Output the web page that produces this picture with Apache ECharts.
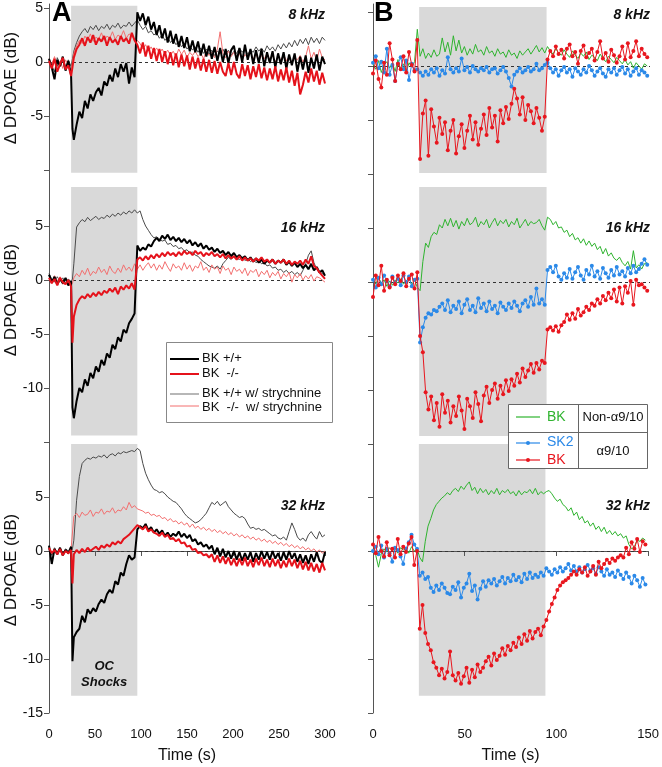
<!DOCTYPE html>
<html><head><meta charset="utf-8">
<script src="https://cdn.jsdelivr.net/npm/echarts@6/dist/echarts.min.js"></script>
<style>html,body{margin:0;padding:0;background:#fff}#c{width:662px;height:767px}</style>
</head><body><div id="c"></div>
<script>
// ---- sample times (s) ----
const tA = [];
for (let t = 0; t <= 24; t += 3) tA.push(t);
tA.push(25.5);
for (let t = 27; t <= 300; t += 3) tA.push(t);
const tB = [];
for (let i = 0; i < 100; i++) tB.push(i * 1.5);

// ---- shock window (s) ----
const shockA = [24, 96];
const shockB = [25, 94];

// ---- Panel A, 8 kHz ----
const a8Black = [
0.3,-0.5,-1.6,0.2,-0.4,0.5,-0.8,0.1,-1.2,-6.2,
-7.2,-5.8,-4.6,-5.2,-3.6,-4.3,-3.0,-3.6,-2.8,-2.4,
-3.1,-1.8,-2.2,-1.2,-1.8,-0.6,-1.4,-0.2,-0.9,-0.1,
-2.0,-0.5,-1.4,4.6,3.8,4.5,3.4,4.2,3.0,3.7,
2.5,3.4,2.2,3.1,1.8,2.9,1.7,2.6,1.4,2.4,
1.3,2.3,1.0,2.0,0.9,1.9,0.6,1.7,0.5,1.5,
0.3,1.4,0.1,1.3,0.0,1.2,-0.1,1.1,1.5,0.1,
1.3,0.0,1.6,0.2,1.2,-0.2,1.1,-0.1,1.2,-0.4,
0.9,-0.1,1.0,-0.5,0.8,-0.2,0.9,-0.6,0.7,-0.3,
0.8,-0.9,0.5,-0.7,0.6,-1.0,0.4,-0.6,0.7,-0.8,
0.5,-0.2];
const a8Red = [
0.1,-0.6,0.3,-0.9,-0.2,0.4,-0.7,-0.3,-1.3,-0.5,
0.4,1.2,1.6,2.2,1.5,2.3,1.8,2.5,1.6,2.2,
1.9,2.4,1.5,2.3,1.8,2.1,1.6,2.4,1.9,2.2,
1.7,2.7,2.0,1.6,0.8,1.8,0.5,1.5,0.3,1.3,
0.1,1.2,0.0,1.0,-0.2,0.9,-0.3,0.8,-0.5,0.7,
-0.4,0.6,-0.7,0.5,-0.6,0.4,-0.8,0.3,-0.9,0.2,
-1.0,0.1,-1.1,0.0,-0.9,-1.3,-0.1,-1.2,0.0,-1.1,
-1.5,-0.2,-1.3,-0.3,-1.6,-0.4,-1.4,-0.2,-1.5,-0.5,
-1.7,-0.6,-1.6,-0.4,-1.8,-0.7,-1.7,-0.5,-1.9,-0.8,
-2.2,-1.0,-3.0,-2.1,-0.9,-1.9,-0.6,-1.8,-0.8,-2.1,
-1.0,-2.0];
const a8Gray = [
0.2,-0.3,-0.9,0.4,-0.2,0.3,-0.5,0.2,-0.4,0.3,
1.0,1.8,2.4,2.8,3.1,2.7,3.3,3.0,3.4,2.9,
3.3,3.1,3.5,3.0,3.4,3.2,3.6,3.1,3.4,3.3,
3.7,3.3,3.6,3.9,3.4,3.0,3.3,2.7,2.9,2.5,
2.7,2.2,2.5,2.0,2.3,1.8,2.1,1.6,1.9,1.4,
1.7,1.2,1.5,1.1,1.4,0.9,1.3,0.8,1.2,0.7,
1.1,0.6,1.0,0.8,1.2,0.7,1.1,0.6,1.0,0.8,
1.3,0.9,1.2,0.7,1.1,0.9,1.4,1.0,1.3,0.9,
1.5,1.1,1.4,1.0,1.6,1.2,1.7,1.3,1.8,1.4,
2.0,1.5,2.1,1.7,2.2,1.6,2.3,1.8,2.2,1.7,
2.3,2.0];
const a8Pink = [
0.3,-0.2,0.5,-0.4,0.1,-0.6,0.2,-0.3,-0.8,0.0,
0.8,1.5,2.0,1.7,2.4,2.0,2.6,1.9,2.3,2.1,
2.7,2.0,2.4,2.2,2.8,2.1,2.5,2.3,2.9,2.2,
2.6,2.4,2.1,2.0,1.7,1.2,1.6,1.0,1.4,0.9,
1.3,0.8,1.2,0.7,1.1,0.6,1.0,0.5,1.2,0.7,
1.1,0.4,0.9,0.6,1.0,0.5,0.8,0.3,1.0,0.6,
0.9,0.4,1.2,2.8,0.8,0.4,1.0,0.5,0.9,0.3,
0.8,0.2,0.7,0.4,0.9,0.3,0.7,0.1,0.6,0.3,
0.8,0.2,0.6,0.0,0.5,0.2,0.7,0.1,0.5,-0.1,
0.4,0.2,0.6,0.0,0.5,1.5,0.3,0.9,0.1,1.2,
0.4,0.2];

// ---- Panel A, 16 kHz ----
const a16Black = [
0.5,-0.2,0.3,-0.4,0.1,-0.3,0.2,-0.5,-0.1,-11.8,
-12.8,-11.2,-10.0,-10.4,-9.2,-9.8,-8.6,-9.1,-8.0,-8.5,
-7.4,-7.9,-6.8,-7.2,-6.0,-6.4,-5.3,-5.7,-4.6,-4.9,
-4.0,-3.6,-3.1,3.2,2.7,3.0,2.8,3.3,3.1,3.6,
3.9,3.6,4.1,3.8,4.2,3.7,4.0,3.6,3.9,3.5,
3.8,3.4,3.7,3.2,3.5,3.1,3.4,2.9,3.2,2.8,
3.0,2.6,2.9,2.5,2.7,2.3,2.6,2.2,2.5,2.1,
2.3,2.0,2.2,1.8,2.1,1.7,2.0,1.6,1.9,1.5,
1.8,1.6,1.9,1.5,1.8,1.6,1.9,1.4,1.7,1.3,
1.6,1.2,1.5,1.1,1.4,1.0,1.5,0.9,1.2,0.7,
0.9,0.4];
const a16Red = [
0.2,-0.3,0.1,-0.5,0.2,-0.2,-0.4,0.0,-0.6,-5.8,
-3.4,-2.3,-1.8,-1.5,-1.7,-1.3,-1.6,-1.2,-1.5,-1.1,
-1.4,-1.0,-1.2,-0.8,-1.1,-0.7,-1.3,-0.6,-0.9,-0.5,
-0.8,-0.3,-0.9,1.9,2.1,1.8,2.2,1.9,2.3,2.0,
2.4,2.1,2.5,2.2,2.6,2.3,2.5,2.2,2.6,2.3,
2.7,2.4,2.6,2.3,2.7,2.4,2.6,2.2,2.5,2.3,
2.6,2.2,2.4,2.1,2.4,2.0,2.3,2.0,2.2,1.9,
2.2,1.8,2.1,1.8,2.0,1.7,2.0,1.8,2.1,1.7,
1.9,1.6,1.9,1.5,1.8,1.6,1.9,1.5,1.8,1.4,
1.7,1.5,1.8,1.4,1.9,1.5,2.2,1.3,1.1,0.7,
0.4,0.1];
const a16Gray = [
0.6,0.1,-0.2,0.3,-0.1,0.2,-0.3,0.1,-0.2,0.1,
1.5,4.9,5.3,5.6,5.4,5.8,5.5,5.7,5.9,5.6,
5.8,5.7,6.0,5.8,6.1,5.9,6.2,6.0,6.3,6.1,
6.4,6.2,6.5,6.2,6.4,5.6,5.0,4.6,4.2,3.9,
4.0,3.8,3.6,3.7,3.3,3.4,3.1,3.2,2.9,3.0,
2.7,2.8,2.5,2.6,2.3,2.2,1.9,1.7,1.5,1.3,
1.2,1.1,1.3,1.0,1.5,1.8,2.1,1.9,2.2,2.0,
1.9,2.1,1.8,2.0,1.7,1.9,1.6,1.8,1.5,1.6,
1.3,1.4,1.1,1.2,0.9,1.0,0.7,0.9,0.6,0.8,
0.5,0.7,0.4,0.9,1.5,2.3,2.7,1.6,1.0,0.8,
0.6,0.5];
const a16Pink = [
0.2,-0.3,0.4,-0.1,0.3,-0.4,0.1,-0.2,-0.5,-0.3,
0.2,0.6,0.3,0.9,0.5,1.1,0.4,0.8,0.6,1.2,
0.7,1.0,0.5,1.3,0.8,0.6,1.1,0.7,1.4,0.9,
1.2,0.8,1.5,1.0,1.4,0.9,1.3,1.6,1.1,1.5,
0.9,1.4,1.0,1.7,1.2,0.8,1.5,1.1,1.3,0.9,
1.6,1.0,1.4,0.8,1.3,1.1,1.7,0.9,1.2,0.7,
1.4,1.0,1.2,0.6,1.3,0.9,1.1,0.5,1.2,0.8,
1.0,0.6,1.1,0.4,0.9,0.7,1.0,0.3,0.8,0.5,
0.9,0.2,0.7,0.4,0.8,0.1,0.6,0.3,0.7,-0.2,
0.5,0.2,0.6,0.0,0.4,0.1,0.5,-0.1,0.3,0.2,
0.0,-0.2];

// ---- Panel A, 32 kHz ----
const a32Black = [
0.5,-1.2,0.2,-0.3,0.3,-0.4,0.1,-0.2,0.4,-10.2,
-8.0,-7.5,-7.2,-6.0,-6.6,-5.4,-5.8,-5.3,-5.6,-4.9,
-4.5,-4.8,-4.0,-3.6,-3.9,-2.8,-3.1,-2.0,-2.3,-1.2,
-0.4,-0.8,-0.6,2.0,2.3,2.1,2.5,1.9,2.2,1.7,
2.0,1.6,1.9,1.4,1.7,1.3,1.6,1.4,1.8,1.3,
1.6,1.2,1.5,0.9,1.1,0.6,0.8,0.4,0.6,0.2,
0.5,-0.3,0.3,-0.5,0.2,-0.6,0.0,-0.7,0.0,-0.8,
-0.1,-0.9,-0.2,-0.8,-0.1,-1.0,-0.2,-0.8,0.0,-0.7,
-0.1,-0.8,0.0,-0.7,-0.2,-0.9,-0.1,-0.8,0.0,-0.7,
-0.2,-1.0,-0.3,-1.1,-0.4,-1.2,-0.3,-1.0,-0.1,-0.9,
-1.1,-0.1];
const a32Red = [
0.3,-0.2,0.1,-0.3,0.2,-0.4,0.0,-0.2,0.1,-3.0,
-0.3,0.1,-0.2,0.2,-0.1,0.3,0.0,0.2,0.4,0.1,
0.5,0.3,0.6,0.4,0.8,0.6,0.9,0.7,1.1,1.3,
1.5,1.8,2.1,2.4,2.2,2.0,2.3,1.8,2.0,1.7,
1.6,1.4,1.7,1.3,1.5,1.1,1.2,0.9,1.1,0.7,
0.8,0.4,0.5,0.1,0.2,-0.2,-0.1,-0.4,-0.3,-0.6,
-0.3,-1.0,-0.4,-1.1,-0.5,-1.2,-0.6,-1.3,-0.7,-1.4,
-0.7,-1.3,-0.6,-1.4,-0.8,-1.5,-0.7,-1.3,-0.6,-1.4,
-0.8,-1.5,-0.7,-1.4,-0.8,-1.6,-0.9,-1.5,-0.7,-1.4,
-0.8,-1.6,-0.9,-1.7,-1.0,-1.8,-1.1,-1.9,-1.2,-2.0,
-1.1,-1.8];
const a32Gray = [
0.2,-0.4,0.3,-0.2,0.1,-0.3,0.2,0.0,-0.1,0.2,
1.0,4.7,6.9,8.1,8.4,8.6,8.5,8.7,8.6,8.8,
8.7,8.9,8.6,8.9,9.0,8.8,9.1,9.0,9.2,9.1,
9.2,9.3,9.2,9.5,9.3,8.1,7.2,6.6,6.1,5.7,
5.6,5.4,5.5,5.3,5.0,4.8,4.6,4.5,4.2,3.9,
3.5,3.2,3.0,2.8,2.6,2.7,2.9,3.2,3.5,4.0,
4.5,4.3,4.6,4.2,4.4,4.6,4.1,3.8,3.5,3.3,
3.1,3.2,3.0,2.5,2.1,2.2,2.0,2.1,1.9,2.0,
1.8,1.6,1.4,1.5,1.2,1.1,1.3,1.0,1.8,2.6,
2.0,1.3,1.0,1.2,0.9,1.5,1.8,1.4,1.1,1.8,
1.3,1.5];
const a32Pink = [
0.1,-0.2,0.2,-0.1,0.3,-0.2,0.1,-0.3,0.2,0.3,
3.2,3.5,3.1,3.6,3.3,3.4,3.8,3.2,3.6,3.5,
3.9,3.4,3.7,3.6,4.0,3.5,3.8,3.7,4.1,3.8,
4.5,4.0,4.2,3.9,3.8,3.7,3.5,3.6,3.3,3.4,
3.2,3.3,3.0,3.1,2.8,3.0,2.7,2.8,2.5,2.7,
2.4,2.6,2.2,2.5,2.1,2.3,2.0,2.2,1.9,2.1,
1.8,2.0,1.7,1.9,1.6,1.8,1.5,1.7,1.4,1.6,
1.3,1.5,1.2,1.4,1.1,1.3,1.0,1.2,0.9,1.1,
0.8,1.0,0.7,0.9,0.6,0.8,0.5,0.7,0.4,0.6,
0.3,0.5,0.2,0.4,0.1,0.3,0.0,0.2,-0.1,0.1,
-0.2,0.0];

// ---- Panel B, 8 kHz ----
const b8Green = [
0.2,-0.3,0.5,-0.6,0.1,0.4,-0.2,0.3,-0.5,0.6,
-0.4,0.2,-0.6,0.3,-0.1,0.4,3.4,0.9,1.6,0.7,
1.2,0.8,1.5,0.9,1.1,2.6,1.3,2.2,1.0,2.8,
1.4,2.4,1.2,1.8,1.0,1.6,1.1,2.0,1.3,1.5,
1.0,1.8,1.2,1.4,0.9,1.6,1.1,1.3,0.8,1.5,
1.0,1.2,0.7,1.4,1.0,1.3,1.6,1.1,1.5,1.9,
1.3,1.7,1.2,1.8,1.4,1.1,1.6,1.2,1.0,1.5,
1.1,0.8,1.4,1.0,0.7,1.2,0.9,1.3,0.6,1.0,
0.8,0.5,1.1,0.7,0.4,0.9,0.6,0.3,0.8,0.5,
0.2,0.6,0.1,0.4,-0.2,0.3,0.0,-0.3,0.2,0.0];
const b8Blue = [
0.3,0.9,-0.2,0.4,-0.6,1.6,-0.8,0.1,-1.4,0.2,
0.8,-0.3,0.5,-1.3,0.2,-0.4,-0.3,-0.6,-0.9,-0.5,
-0.8,-0.3,-0.6,-0.2,-0.9,-0.4,-0.7,0.8,-0.3,-0.6,
-0.2,-0.5,0.7,-0.4,-0.1,-0.6,0.0,-0.3,-0.5,-0.2,
-0.4,-0.1,-0.6,-0.3,-0.2,-0.7,-0.4,-0.1,-0.5,-1.1,
-1.9,-0.8,-0.5,-0.2,-0.6,-0.4,-0.1,-0.5,-0.3,0.2,
-0.4,-0.2,0.1,0.3,-0.2,-0.6,-0.3,-0.9,-0.4,-0.1,
-0.6,-0.3,-1.0,-0.2,-0.5,-0.8,-0.3,-0.6,0.0,-0.4,
-0.9,-0.5,-0.2,-0.7,-1.0,-0.3,-0.6,-0.2,-0.8,-0.4,
-0.1,-0.7,-0.3,-0.9,-0.5,-0.2,-0.8,-0.4,-0.6,-0.9];
const b8Red = [
-0.7,0.5,-1.2,-2.0,0.3,-0.8,2.1,0.6,-1.4,0.2,
-0.3,0.9,-0.6,1.3,0.1,-0.5,2.4,-8.6,-4.4,-3.2,
-8.3,-4.0,-5.6,-7.1,-4.8,-6.3,-5.2,-7.8,-6.0,-5.0,
-8.1,-6.5,-5.4,-7.6,-6.0,-4.6,-6.8,-5.2,-7.3,-5.8,
-4.5,-6.4,-3.9,-5.7,-4.6,-7.0,-4.1,-5.3,-3.8,-4.9,
-3.5,-2.1,-3.0,-4.5,-2.9,-5.0,-3.6,-4.2,-5.3,-3.9,
-4.8,-6.0,-4.7,0.6,1.4,0.9,1.8,1.1,1.5,0.7,
1.6,2.0,0.9,1.3,0.2,1.4,1.9,0.8,1.2,1.6,
0.5,1.3,2.3,0.7,1.2,0.4,1.5,1.0,0.3,0.9,
1.8,0.6,2.1,0.8,1.4,2.3,0.9,1.6,1.1,0.8];

// ---- Panel B, 16 kHz ----
const b16Green = [
0.3,-0.2,0.4,-0.1,0.2,-0.4,0.1,-0.3,0.2,-0.1,
0.3,-0.2,0.1,0.4,-0.3,0.2,-0.5,-0.8,1.9,3.6,
3.2,4.2,4.6,4.4,5.3,5.0,5.8,5.2,5.9,5.1,
5.7,4.9,5.6,5.2,5.9,5.3,5.5,6.0,5.1,5.6,
5.3,5.8,5.0,5.5,5.9,5.2,5.7,5.4,5.8,5.1,
5.6,5.3,5.9,5.0,5.4,5.8,5.2,5.6,5.4,5.5,
5.8,5.2,4.8,6.0,5.8,5.3,5.6,5.0,5.1,4.6,
4.8,4.2,4.5,3.9,4.1,3.6,4.0,3.4,3.8,3.3,
3.6,3.0,3.3,2.6,3.1,2.4,2.7,2.2,2.0,2.3,
1.8,1.5,1.9,1.2,2.9,1.3,1.6,1.2,1.7,1.8];
const b16Blue = [
0.2,-0.5,0.4,-0.2,0.6,0.1,-0.4,0.5,-0.1,0.3,
-0.3,0.6,0.0,0.5,-0.4,0.2,0.3,-5.6,-4.2,-3.3,
-2.9,-3.0,-2.6,-2.7,-2.3,-2.0,-2.6,-1.7,-2.8,-2.2,
-2.5,-1.8,-2.9,-2.1,-1.6,-2.6,-2.2,-2.8,-1.5,-2.4,
-2.0,-2.7,-1.8,-2.5,-2.2,-2.9,-1.9,-2.3,-2.6,-2.0,
-2.4,-1.8,-2.2,-2.7,-2.0,-1.7,-2.3,-1.4,-2.1,-0.6,
-2.0,-1.6,-2.1,1.1,1.4,0.9,1.5,0.5,0.2,0.8,
0.4,1.2,0.3,0.9,1.4,0.6,0.2,1.1,0.7,1.5,
0.5,1.0,0.3,1.3,0.8,0.4,1.1,0.6,1.4,0.7,
1.0,0.5,1.3,0.8,1.5,0.9,1.2,1.7,2.1,1.6];
const b16Red = [
-1.4,0.6,-0.3,1.5,-0.8,0.2,-0.5,0.4,-0.2,0.6,
0.1,0.8,-0.4,0.3,0.7,-0.6,0.9,-5.0,-6.5,-10.2,
-11.8,-10.6,-12.8,-11.2,-13.4,-10.4,-12.1,-11.0,-13.0,-11.5,
-12.4,-10.6,-11.9,-13.6,-10.8,-11.5,-12.6,-10.2,-11.3,-12.9,
-10.5,-9.7,-11.2,-10.0,-9.4,-10.8,-9.6,-10.4,-9.1,-10.1,
-9.0,-9.6,-8.5,-9.3,-8.0,-8.8,-8.2,-7.6,-8.4,-7.5,
-8.1,-7.3,-7.5,-4.4,-4.2,-4.5,-4.1,-4.6,-4.0,-3.7,
-3.0,-3.5,-2.9,-3.4,-2.5,-3.1,-2.8,-2.3,-2.6,-2.0,
-2.2,-1.6,-2.0,-1.3,-1.7,-1.0,-1.5,-0.7,-1.8,-0.5,
-2.0,-0.4,-1.0,0.1,-2.1,0.2,-0.3,-0.2,-0.5,-0.8];

// ---- Panel B, 32 kHz ----
const b32Green = [
0.2,-0.4,-1.5,-0.3,0.2,-0.1,0.3,0.0,0.4,-0.2,
0.3,0.1,0.2,-0.2,0.4,0.0,0.2,-0.6,-1.0,0.9,
2.3,3.0,3.8,4.3,4.6,4.9,5.1,5.4,5.2,5.6,
5.8,5.5,6.0,5.7,6.1,6.4,5.6,5.9,5.3,5.8,
5.4,5.7,5.2,5.6,5.3,5.8,5.2,5.6,5.4,5.7,
5.3,5.5,5.1,5.6,5.2,5.5,5.4,5.7,5.3,5.8,
5.2,5.5,5.3,5.5,5.6,5.3,4.9,4.6,4.8,4.3,
4.1,3.7,4.0,3.3,3.6,2.9,3.2,2.6,2.8,2.3,
2.6,2.0,2.3,1.8,2.2,1.6,1.9,1.5,1.8,1.4,
1.6,1.2,1.4,0.6,0.2,0.4,1.0,0.9,1.2,1.0];
const b32Blue = [
0.0,0.4,-0.3,0.5,-0.6,0.2,-0.2,-1.0,0.3,0.1,
-0.5,-1.2,0.2,0.8,1.5,0.6,0.2,-2.3,-2.0,-2.6,
-2.4,-3.4,-3.8,-3.2,-3.6,-3.0,-3.4,-3.9,-4.0,-3.3,
-3.6,-2.9,-4.3,-3.4,-3.0,-2.1,-3.7,-3.2,-4.5,-3.5,
-2.8,-3.3,-2.7,-3.0,-2.6,-3.2,-2.8,-2.4,-3.0,-2.5,
-2.8,-2.2,-2.7,-2.4,-2.9,-2.1,-2.6,-2.0,-2.5,-2.2,
-2.4,-2.0,-2.3,-1.6,-1.9,-2.2,-1.7,-2.0,-1.5,-1.9,
-1.6,-1.2,-1.8,-1.4,-1.9,-1.5,-2.0,-1.7,-1.3,-1.8,
-1.6,-2.1,-1.5,-1.9,-2.3,-1.7,-2.2,-2.0,-2.4,-1.8,
-2.2,-2.6,-2.0,-2.4,-3.0,-2.3,-2.7,-3.3,-2.5,-3.1];
const b32Red = [
0.6,-0.2,1.3,0.0,-0.5,0.8,-0.4,0.2,-0.6,1.1,
-0.3,0.4,-0.1,0.7,1.3,-1.3,0.0,-7.2,-5.0,-7.6,
-8.6,-9.2,-10.3,-10.8,-11.5,-10.9,-11.8,-11.2,-9.3,-11.5,
-12.0,-11.3,-12.3,-11.6,-10.8,-12.2,-11.0,-11.7,-10.5,-11.2,
-10.8,-10.2,-9.8,-10.6,-9.5,-10.1,-9.7,-9.0,-9.6,-8.8,
-9.2,-8.5,-8.9,-8.0,-8.6,-7.7,-8.3,-7.4,-8.1,-7.5,
-7.2,-7.8,-7.0,-6.4,-5.6,-4.9,-4.3,-3.6,-3.2,-2.9,
-2.7,-2.5,-2.2,-1.9,-2.2,-1.7,-2.0,-1.5,-2.3,-1.9,
-1.4,-2.2,-1.0,-1.6,-1.2,-0.8,-1.1,-0.7,-0.9,-0.6,
-0.4,-0.6,0.3,-0.3,0.8,0.2,1.1,-0.1,0.9,0.6];

// ---- tick labels ----
const xTicksA = [0, 50, 100, 150, 200, 250, 300];
const xTicksB = [0, 50, 100, 150];
const freqLabels = ['8 kHz', '16 kHz', '32 kHz'];

// ================= chart =================
const FONT = '"Liberation Sans", Arial, Helvetica, sans-serif';
const C = {
  black: '#000000', red: '#e5121b', gray: '#4a4a4a', pink: '#f36f6f',
  green: '#2fb42f', blue: '#2b89e8', redB: '#e8161e', shade: '#d9d9d9', axis: '#555'
};
const pair = (t, v) => t.slice(0, v.length).map((x, i) => [x, v[i]]);

const grids = [
  {left: 49, top: 4, width: 276, height: 170},
  {left: 49, top: 174, width: 276, height: 270},
  {left: 49, top: 444, width: 276, height: 269},
  {left: 373, top: 4, width: 277, height: 172},
  {left: 373, top: 176, width: 277, height: 268},
  {left: 373, top: 444, width: 277, height: 269}
];
const yR = [
  {min: -10.370, max: 5.370, ticks: [5, 0, -5, -10], labels: [5, 0, -5]},
  {min: -15.185, max: 9.815, ticks: [5, 0, -5, -10, -15], labels: [5, 0, -5, -10]},
  {min: -15.0, max: 9.907, ticks: [5, 0, -5, -10, -15], labels: [5, 0, -5, -10, -15]},
  {min: -10.185, max: 5.741, ticks: [5, 0, -5, -10], labels: []},
  {min: -15.0, max: 9.815, ticks: [5, 0, -5, -10, -15], labels: []},
  {min: -15.0, max: 9.907, ticks: [5, 0, -5, -10, -15], labels: []}
];
const shadeY = [[5.2, -10.25], [8.6, -14.4], [9.9, -13.4], [5.46, -9.9], [8.8, -14.26], [9.9, -13.4]];

const xAxes = grids.map((g, i) => {
  const isA = i < 3, bottom = (i === 2 || i === 5);
  return {
    gridIndex: i, type: 'value', min: 0, max: isA ? 300 : 150, interval: 50,
    show: bottom, offset: 8,
    axisLine: {show: true, lineStyle: {color: C.axis, width: 1}},
    axisTick: {show: true, inside: false, length: 5, lineStyle: {color: C.axis}},
    axisLabel: {fontSize: 13, color: '#111', fontFamily: FONT, margin: 7},
    splitLine: {show: false},
    name: bottom ? 'Time (s)' : '', nameLocation: 'middle', nameGap: 27,
    nameTextStyle: {fontSize: 16, color: '#111', fontFamily: FONT}
  };
});
const yAxes = grids.map((g, i) => ({
  gridIndex: i, type: 'value', min: yR[i].min, max: yR[i].max,
  axisLine: {show: true, onZero: false, lineStyle: {color: C.axis, width: 1}},
  axisTick: {show: true, inside: false, length: 5, customValues: yR[i].ticks, lineStyle: {color: C.axis}},
  axisLabel: {show: yR[i].labels.length > 0, customValues: yR[i].labels, fontSize: 14, color: '#111', fontFamily: FONT, margin: 6},
  splitLine: {show: false}
}));

function decor(gi, isA) {
  const sx = isA ? shockA : shockB;
  const area = {
    silent: true, z: 0,
    itemStyle: {color: C.shade},
    data: [[{xAxis: sx[0], yAxis: shadeY[gi][0]}, {xAxis: sx[1], yAxis: shadeY[gi][1]}]],
    label: {show: false}
  };
  if (gi === 2) {
    area.label = {show: true, position: 'insideBottom', distance: 5, formatter: 'OC\nShocks',
      fontStyle: 'italic', fontWeight: 'bold', fontSize: 13, lineHeight: 16, color: '#111', fontFamily: FONT};
  }
  return {
    markArea: area,
    markLine: {silent: true, z: 1, symbol: ['none', 'none'], label: {show: false},
      lineStyle: {color: '#333', width: 1, type: [3, 3]}, data: [{yAxis: 0}]}
  };
}

function ser(gi, t, v, color, width, z, withSym, extra) {
  const s = {
    type: 'line', xAxisIndex: gi, yAxisIndex: gi, data: pair(t, v), z: z,
    showSymbol: !!withSym, showAllSymbol: true, symbol: 'circle', symbolSize: 4,
    lineStyle: {color: color, width: width}, itemStyle: {color: color},
    emphasis: {disabled: true}, animation: false, clip: true
  };
  return Object.assign(s, extra || {});
}

const A = [[a8Black, a8Red, a8Gray, a8Pink], [a16Black, a16Red, a16Gray, a16Pink], [a32Black, a32Red, a32Gray, a32Pink]];
const B = [[b8Green, b8Blue, b8Red], [b16Green, b16Blue, b16Red], [b32Green, b32Blue, b32Red]];
const series = [];
A.forEach((d, k) => {
  series.push(ser(k, tA, d[2], C.gray, 1, 2, false, decor(k, true)));
  series.push(ser(k, tA, d[3], C.pink, 1, 3, false));
  series.push(ser(k, tA, d[0], C.black, 2, 4, false));
  series.push(ser(k, tA, d[1], C.red, 2, 5, false));
});
B.forEach((d, k) => {
  const gi = k + 3;
  series.push(ser(gi, tB, d[0], C.green, 1, 2, false, decor(gi, false)));
  series.push(ser(gi, tB, d[1], C.blue, 1, 3, true));
  series.push(ser(gi, tB, d[2], C.redB, 1, 4, true));
});

// ---- text & legends ----
const T = (x, y, text, font, fill, align, extra) => Object.assign({
  type: 'text', x: x, y: y, z: 100,
  style: {text: text, font: font, fill: fill || '#111', align: align || 'left', verticalAlign: 'middle'}
}, extra || {});
const L = (x1, y1, x2, y2, color, w) => ({type: 'line', z: 100, shape: {x1: x1, y1: y1, x2: x2, y2: y2}, style: {stroke: color, lineWidth: w}});
const graphic = [];
[88, 300, 570].forEach(y => graphic.push(T(11, y, 'Δ DPOAE (dB)', '17px ' + FONT, '#111', 'center', {rotation: Math.PI / 2})));
graphic.push(T(52, 14, 'A', 'bold 27px ' + FONT, '#000'));
graphic.push(T(374, 14, 'B', 'bold 27px ' + FONT, '#000'));
[[15, 0], [228, 1], [506, 2]].forEach(([y, k]) => {
  graphic.push(T(325, y, freqLabels[k], 'italic bold 14px ' + FONT, '#111', 'right'));
  graphic.push(T(650, y, freqLabels[k], 'italic bold 14px ' + FONT, '#111', 'right'));
});
// legend A
graphic.push({type: 'rect', z: 99, shape: {x: 166.5, y: 342.5, width: 166, height: 80}, style: {fill: '#fff', stroke: '#888', lineWidth: 1}});
graphic.push(L(170, 359, 199, 359, C.black, 2));
graphic.push(L(170, 374, 199, 374, C.red, 2));
graphic.push(L(170, 394, 199, 394, '#888', 1.2));
graphic.push(L(170, 406, 199, 406, C.pink, 1));
graphic.push(T(202, 358, 'BK +/+', '13px ' + FONT));
graphic.push(T(202, 373, 'BK  -/-', '13px ' + FONT));
graphic.push(T(202, 393, 'BK +/+ w/ strychnine', '13px ' + FONT));
graphic.push(T(202, 407, 'BK  -/-  w/ strychnine', '13px ' + FONT));
// legend B
graphic.push({type: 'rect', z: 99, shape: {x: 508.5, y: 404.5, width: 139, height: 64}, style: {fill: '#fff', stroke: '#666', lineWidth: 1}});
graphic.push(L(578.5, 404.5, 578.5, 468.5, '#666', 1));
graphic.push(L(508.5, 432.5, 647.5, 432.5, '#666', 1));
graphic.push(L(516, 417, 540, 417, C.green, 1.2));
graphic.push(T(547, 417, 'BK', '14px ' + FONT, C.green));
graphic.push(T(613, 417, 'Non-α9/10', '13px ' + FONT, '#111', 'center'));
graphic.push(L(516, 443, 540, 443, C.blue, 1.2));
graphic.push({type: 'circle', z: 101, shape: {cx: 528, cy: 443, r: 2}, style: {fill: C.blue}});
graphic.push(T(547, 442, 'SK2', '14px ' + FONT, C.blue));
graphic.push(L(516, 460, 540, 460, C.redB, 1.2));
graphic.push({type: 'circle', z: 101, shape: {cx: 528, cy: 460, r: 2}, style: {fill: C.redB}});
graphic.push(T(547, 460, 'BK', '14px ' + FONT, C.redB));
graphic.push(T(613, 451, 'α9/10', '13px ' + FONT, '#111', 'center'));

const chart = echarts.init(document.getElementById('c'), null, {renderer: 'canvas'});
chart.setOption({
  animation: false,
  backgroundColor: '#fff',
  textStyle: {fontFamily: FONT},
  grid: grids,
  xAxis: xAxes,
  yAxis: yAxes,
  series: series,
  graphic: graphic
});
</script></body></html>
